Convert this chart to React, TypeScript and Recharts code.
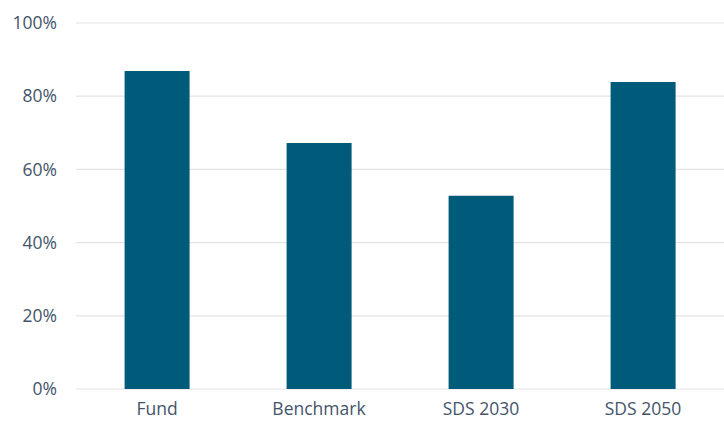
import { Bar, BarChart, CartesianGrid, XAxis, YAxis } from "recharts";

const categories = ["Fund", "Benchmark", "SDS 2030", "SDS 2050"];
const shares = [86.9, 67.2, 52.8, 83.9];
const yTicks = [0, 20, 40, 60, 80, 100];

const data = categories.map((name, i) => ({ name, value: shares[i] }));

const tickStyle = { fontSize: 17.5, fill: "#44546a", fontFamily: "'Open Sans', sans-serif" };

export default function App() {
  return (
    <div style={{ position: "fixed", left: 0, top: 0, background: "#fff" }}>
      <BarChart
        width={724}
        height={421}
        data={data}
        margin={{ top: 23, right: 0, left: 0, bottom: 0 }}
        barCategoryGap="30%"
      >
        <CartesianGrid vertical={false} stroke="#e3e3e3" strokeWidth={1.2} />
        <XAxis
          dataKey="name"
          axisLine={false}
          tickLine={false}
          tickSize={0}
          tickMargin={14}
          height={32}
          tick={tickStyle}
        />
        <YAxis
          domain={[0, 100]}
          ticks={yTicks}
          tickFormatter={(v) => `${v}%`}
          axisLine={false}
          tickLine={false}
          tickSize={0}
          tickMargin={19}
          width={76}
          tick={tickStyle}
        />
        <Bar dataKey="value" fill="#005a7a" isAnimationActive={false} />
      </BarChart>
    </div>
  );
}
